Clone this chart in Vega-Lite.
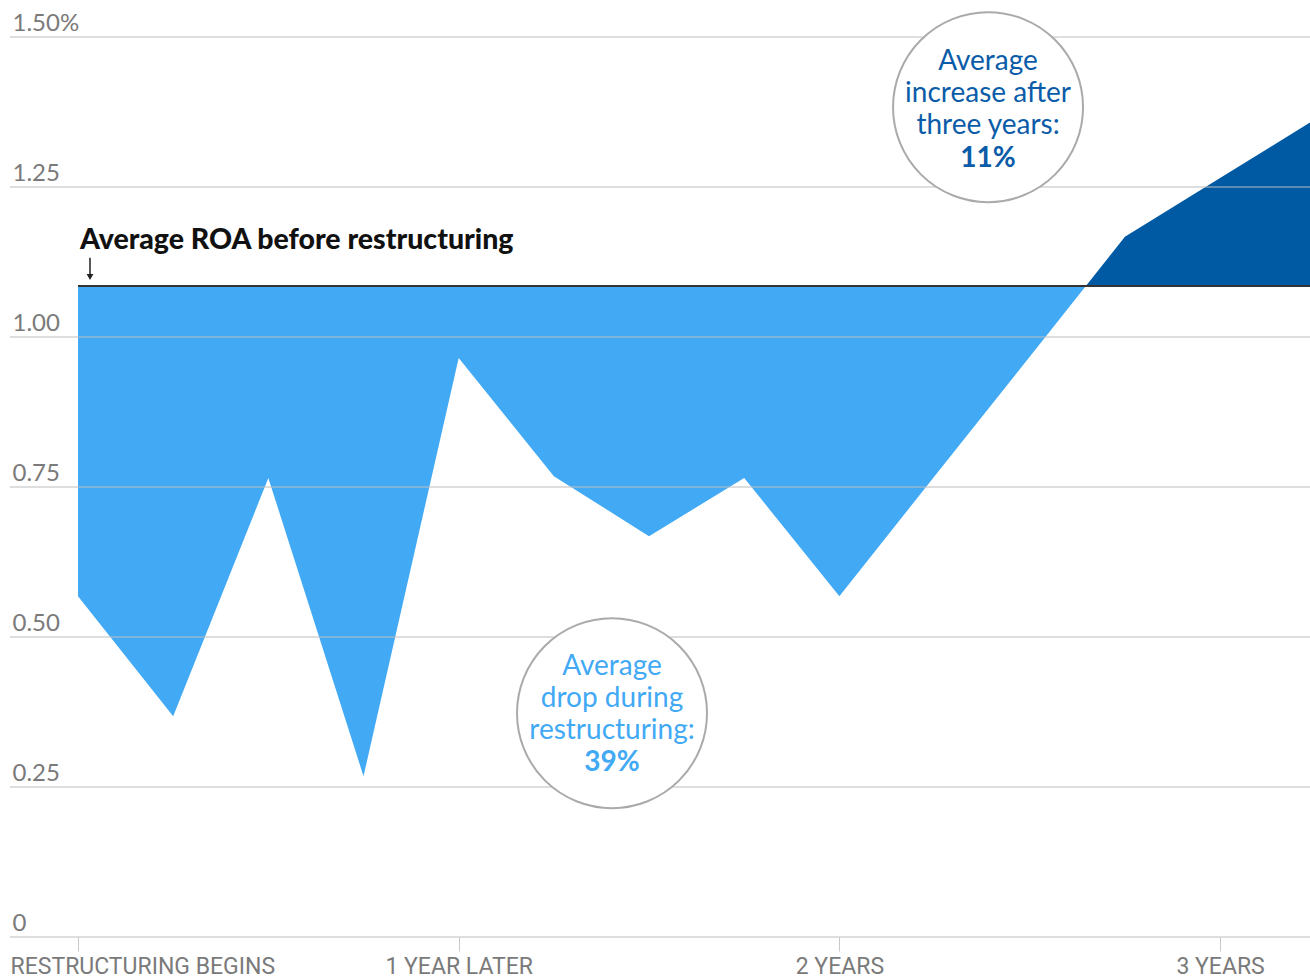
{
  "$schema": "https://vega.github.io/schema/vega-lite/v6.json",
  "width": 1300,
  "height": 900,
  "autosize": {"type": "none"},
  "padding": {"left": 10, "top": 37, "right": 0, "bottom": 43},
  "background": "white",
  "config": {"view": {"stroke": null}, "font": "Lato"},
  "datasets": {
    "drop": [
      {"quarter": 0, "roa": 0.568},
      {"quarter": 1, "roa": 0.368},
      {"quarter": 2, "roa": 0.765},
      {"quarter": 3, "roa": 0.268},
      {"quarter": 4, "roa": 0.965},
      {"quarter": 5, "roa": 0.768},
      {"quarter": 6, "roa": 0.668},
      {"quarter": 7, "roa": 0.765},
      {"quarter": 8, "roa": 0.568},
      {"quarter": 9, "roa": 0.768},
      {"quarter": 10, "roa": 0.967},
      {"quarter": 10.59, "roa": 1.085}
    ],
    "gain": [
      {"quarter": 10.59, "roa": 1.085},
      {"quarter": 11, "roa": 1.167},
      {"quarter": 12, "roa": 1.265},
      {"quarter": 13, "roa": 1.363}
    ],
    "grid": [
      {"level": 0}, {"level": 0.25}, {"level": 0.5}, {"level": 0.75},
      {"level": 1}, {"level": 1.25}, {"level": 1.5}
    ]
  },
  "layer": [
    {
      "data": {"name": "drop"},
      "mark": {"type": "area", "color": "#42a9f5", "clip": true},
      "encoding": {
        "x": {
          "field": "quarter", "type": "quantitative",
          "scale": {"domain": [-0.7145, 12.945], "nice": false, "zero": false},
          "axis": {
            "title": null,
            "values": [0, 4, 8, 12],
            "labelExpr": "datum.value == 0 ? 'RESTRUCTURING BEGINS' : datum.value == 4 ? '1 YEAR LATER' : datum.value == 8 ? '2 YEARS' : '3 YEARS'",
            "grid": false,
            "domain": false,
            "ticks": true,
            "tickSize": 14,
            "tickColor": "#c8c8c8",
            "tickWidth": 1,
            "labelFont": "Roboto",
            "labelFontSize": 23,
            "labelColor": "#7a7a7a",
            "labelPadding": 4,
            "labelLimit": 500,
            "labelFlush": false,
            "labelOverlap": false,
            "labelBound": false,
            "labelAlign": {"condition": {"test": "datum.value === 0", "value": "left"}, "value": "center"},
            "labelOffset": {"condition": {"test": "datum.value === 0", "value": -68}, "value": 0}
          }
        },
        "y": {
          "field": "roa", "type": "quantitative",
          "scale": {"domain": [0, 1.5], "nice": false},
          "axis": {
            "title": null,
            "values": [0, 0.25, 0.5, 0.75, 1, 1.25, 1.5],
            "labelExpr": "datum.value == 1.5 ? '1.50%' : datum.value == 0 ? '0' : format(datum.value, '.2f')",
            "grid": false,
            "domain": false,
            "ticks": false,
            "tickSize": 0,
            "labelAlign": "left",
            "labelBaseline": "alphabetic",
            "labelPadding": -2,
            "labelOffset": -7,
            "labelFont": "Lato",
            "labelFontSize": 24,
            "labelColor": "#7a7a7a",
            "labelFlush": false,
            "labelOverlap": false
          }
        },
        "y2": {"datum": 1.085}
      }
    },
    {
      "data": {"name": "gain"},
      "mark": {"type": "area", "color": "#005aa3", "clip": true},
      "encoding": {
        "x": {"field": "quarter", "type": "quantitative"},
        "y": {"field": "roa", "type": "quantitative"},
        "y2": {"datum": 1.085}
      }
    },
    {
      "data": {"name": "grid"},
      "mark": {"type": "rule", "color": "#bdbdbd", "strokeWidth": 1},
      "encoding": {"y": {"field": "level", "type": "quantitative"}}
    },
    {
      "data": {"values": [{}]},
      "mark": {"type": "rule", "color": "#333333", "strokeWidth": 2},
      "encoding": {"x": {"datum": 0}, "x2": {"datum": 12.945}, "y": {"datum": 1.085}}
    },
    {
      "data": {"values": [{}]},
      "mark": {"type": "rule", "color": "#222222", "strokeWidth": 1.5},
      "encoding": {"x": {"datum": 0.126}, "y": {"datum": 1.132}, "y2": {"datum": 1.102}}
    },
    {
      "data": {"values": [{}]},
      "mark": {"type": "point", "shape": "triangle-down", "filled": true, "color": "#222222", "size": 45, "opacity": 1},
      "encoding": {"x": {"datum": 0.126}, "y": {"datum": 1.1}}
    },
    {
      "data": {"values": [{}]},
      "mark": {"type": "text", "text": "Average ROA before restructuring", "align": "left", "baseline": "middle", "font": "Lato", "fontWeight": 900, "fontSize": 28.5, "color": "#111111"},
      "encoding": {"x": {"datum": 0.02}, "y": {"datum": 1.162}}
    },
    {
      "data": {"values": [{}]},
      "mark": {"type": "point", "shape": "circle", "filled": false, "fill": "white", "fillOpacity": 1, "stroke": "#aaaaaa", "strokeWidth": 2, "size": 36100, "opacity": 1},
      "encoding": {"x": {"datum": 9.562}, "y": {"datum": 1.383}}
    },
    {
      "data": {"values": [{}]},
      "mark": {"type": "point", "shape": "circle", "filled": false, "fill": "white", "fillOpacity": 1, "stroke": "#aaaaaa", "strokeWidth": 2, "size": 36100, "opacity": 1},
      "encoding": {"x": {"datum": 5.611}, "y": {"datum": 0.373}}
    },
    {
      "data": {"values": [{}]},
      "mark": {"type": "text", "text": ["Average", "increase after", "three years:"], "lineHeight": 32, "align": "center", "baseline": "middle", "font": "Lato", "fontSize": 28, "color": "#0b5ca8"},
      "encoding": {"x": {"datum": 9.562}, "y": {"datum": 1.458}}
    },
    {
      "data": {"values": [{}]},
      "mark": {"type": "text", "text": "11%", "align": "center", "baseline": "middle", "font": "Lato", "fontWeight": "bold", "fontSize": 28, "color": "#0b5ca8"},
      "encoding": {"x": {"datum": 9.562}, "y": {"datum": 1.297}}
    },
    {
      "data": {"values": [{}]},
      "mark": {"type": "text", "text": ["Average", "drop during", "restructuring:"], "lineHeight": 32, "align": "center", "baseline": "middle", "font": "Lato", "fontSize": 28, "color": "#42a9f5"},
      "encoding": {"x": {"datum": 5.611}, "y": {"datum": 0.45}}
    },
    {
      "data": {"values": [{}]},
      "mark": {"type": "text", "text": "39%", "align": "center", "baseline": "middle", "font": "Lato", "fontWeight": "bold", "fontSize": 28, "color": "#42a9f5"},
      "encoding": {"x": {"datum": 5.611}, "y": {"datum": 0.29}}
    }
  ]
}
